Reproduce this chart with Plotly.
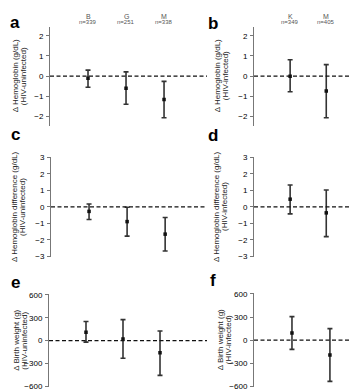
import plotly.graph_objects as go

W, H = 358, 391

# ---- data ----
# panel a: Hemoglobin, HIV-uninfected
a_cats = ["B", "G", "M"]
a_n = ["n=339", "n=251", "n=338"]
a_est = [-0.10, -0.60, -1.15]
a_lo = [-0.55, -1.39, -2.06]
a_hi = [0.30, 0.21, -0.26]
# panel b: Hemoglobin, HIV-infected
b_cats = ["K", "M"]
b_n = ["n=349", "n=405"]
b_est = [0.00, -0.74]
b_lo = [-0.77, -2.06]
b_hi = [0.81, 0.57]
# panel c: Hemoglobin difference, HIV-uninfected
c_est = [-0.27, -0.89, -1.65]
c_lo = [-0.76, -1.77, -2.67]
c_hi = [0.18, -0.02, -0.64]
# panel d: Hemoglobin difference, HIV-infected
d_est = [0.47, -0.36]
d_lo = [-0.42, -1.80]
d_hi = [1.33, 1.03]
# panel e: Birth weight, HIV-uninfected
e_est = [110, 20, -160]
e_lo = [-20, -230, -455]
e_hi = [250, 275, 127]
# panel f: Birth weight, HIV-infected
f_est = [93, -193]
f_lo = [-120, -535]
f_hi = [305, 150]

a_ticks = [-2, -1, 0, 1, 2]
c_ticks = [-3, -2, -1, 0, 1, 2, 3]
e_ticks = [-600, -300, 0, 300, 600]

FONT = "Liberation Sans, Arial, sans-serif"

def px_x(x0, x1):
    return [x0 / W, x1 / W]

def px_y(y0, y1):
    # y0 top, y1 bottom in pixels
    return [1 - y1 / H, 1 - y0 / H]

panels = [
    dict(est=a_est, lo=a_lo, hi=a_hi, xd=(42, 199), xr=[0, 4.13], yd=(15, 116), yr=[-2.45, 2.45],
         ticks=a_ticks, t1="\u0394 Hemoglobin (g/dL)", t2="(HIV-uninfected)", lab="a", lp=(7, 11), tx=(7, 15)),
    dict(est=b_est, lo=b_lo, hi=b_hi, xd=(246, 358), xr=[0, 3.1], yd=(15, 116), yr=[-2.45, 2.45],
         ticks=a_ticks, t1="\u0394 Hemoglobin (g/dL)", t2="(HIV-infected)", lab="b", lp=(205, 12), tx=(209, 217)),
    dict(est=c_est, lo=c_lo, hi=c_hi, xd=(43, 199), xr=[0, 4.1], yd=(148, 250), yr=[-3.03, 3.03],
         ticks=c_ticks, t1="\u0394 Hemoglobin difference (g/dL)", t2="(HIV-uninfected)", lab="c", lp=(7, 125), tx=(7, 15)),
    dict(est=d_est, lo=d_lo, hi=d_hi, xd=(246, 358), xr=[0, 3.1], yd=(148, 250), yr=[-3.03, 3.03],
         ticks=c_ticks, t1="\u0394 Hemoglobin difference (g/dL)", t2="(HIV-infected)", lab="d", lp=(205, 126), tx=(209, 217)),
    dict(est=e_est, lo=e_lo, hi=e_hi, xd=(41, 199), xr=[0, 4.27], yd=(288, 383), yr=[-610, 610],
         ticks=e_ticks, t1="\u0394 Birth weight (g)", t2="(HIV-uninfected)", lab="e", lp=(7, 276), tx=(9, 17)),
    dict(est=f_est, lo=f_lo, hi=f_hi, xd=(246, 358), xr=[0, 2.95], yd=(287, 383), yr=[-610, 610],
         ticks=e_ticks, t1="\u0394 Birth weight (g)", t2="(HIV-infected)", lab="f", lp=(205, 274), tx=(212, 220)),
]

fig = go.Figure()
layout = dict(
    width=W, height=H, margin=dict(l=0, r=0, t=0, b=0),
    paper_bgcolor="white", plot_bgcolor="white", showlegend=False,
    font=dict(family=FONT, size=8, color="#222"),
)
annotations = []
shapes = []

for i, p in enumerate(panels):
    k = "" if i == 0 else str(i + 1)
    xs = list(range(1, len(p["est"]) + 1))
    fig.add_trace(go.Scatter(
        x=xs, y=p["est"], mode="markers",
        xaxis="x" + k, yaxis="y" + k,
        marker=dict(symbol="square", size=3.5, color="#111"),
        error_y=dict(type="data", symmetric=False,
                     array=[h - e for h, e in zip(p["hi"], p["est"])],
                     arrayminus=[e - l for e, l in zip(p["est"], p["lo"])],
                     color="#333", thickness=1.6, width=2.5),
        hoverinfo="skip",
    ))
    layout["xaxis" + k] = dict(
        domain=px_x(*p["xd"]), range=p["xr"], anchor="y" + k,
        showline=False, showgrid=False, zeroline=False, showticklabels=False, ticks="",
    )
    layout["yaxis" + k] = dict(
        domain=px_y(*p["yd"]), range=p["yr"], anchor="x" + k,
        showline=True, linecolor="#777", linewidth=1,
        ticks="outside", ticklen=3, tickcolor="#777", tickwidth=1,
        tickvals=p["ticks"], showgrid=False, zeroline=False,
        tickfont=dict(size=8, color="#000", family=FONT), ticklabelstandoff=1,
    )
    xref = "x" + k
    yref = "y" + k
    shapes.append(dict(type="line", xref=xref + " domain", yref=yref, x0=0, x1=1, y0=0, y1=0,
                       line=dict(color="#111", width=1.2, dash="4px,2.5px")))
    # panel letter
    annotations.append(dict(text="<b>%s</b>" % p["lab"], xref="paper", yref="paper",
                            x=p["lp"][0] / W, y=1 - p["lp"][1] / H, showarrow=False,
                            font=dict(size=17, color="#000", family=FONT),
                            xanchor="center", yanchor="middle"))
    # y titles (two lines)
    ymid = 1 - (p["yd"][0] + p["yd"][1]) / 2 / H
    for txt, tx in zip([p["t1"], p["t2"]], p["tx"]):
        annotations.append(dict(text=txt, xref="paper", yref="paper",
                                x=tx / W, y=ymid, showarrow=False, textangle=-90,
                                font=dict(size=8, color="#222", family=FONT),
                                xanchor="center", yanchor="middle"))

# category labels above panels a and b
for k, cats, ns in [("", a_cats, a_n), ("2", b_cats, b_n)]:
    for j, (c, n) in enumerate(zip(cats, ns)):
        annotations.append(dict(text=c, xref="x" + k, yref="paper", x=j + 1, y=1 - 4.5 / H,
                                showarrow=False, font=dict(size=7, color="#555", family=FONT),
                                xanchor="center", yanchor="middle"))
        annotations.append(dict(text=n, xref="x" + k, yref="paper", x=j + 1, y=1 - 10 / H,
                                showarrow=False, font=dict(size=6, color="#555", family=FONT),
                                xanchor="center", yanchor="middle"))

layout["annotations"] = annotations
layout["shapes"] = shapes
fig.update_layout(**layout)
fig.write_html("out.html")
